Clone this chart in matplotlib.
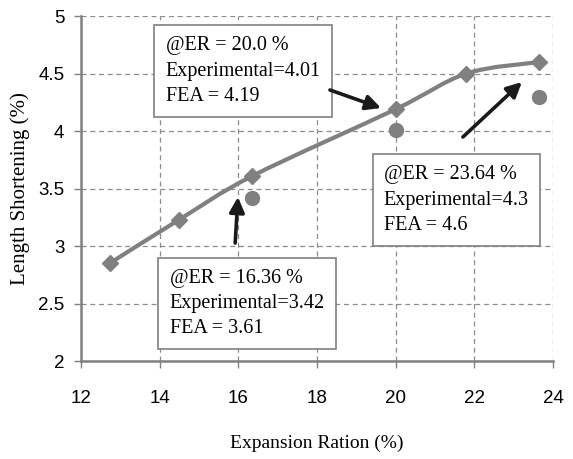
import matplotlib
matplotlib.use("Agg")
import matplotlib.pyplot as plt
from matplotlib.path import Path
from matplotlib.patches import PathPatch
from matplotlib import font_manager

# data
er_fea = [12.73, 14.5, 16.36, 20.0, 21.8, 23.64]
ls_fea = [2.85, 3.23, 3.61, 4.19, 4.5, 4.6]
er_exp = [16.36, 20.0, 23.64]
ls_exp = [3.42, 4.01, 4.3]
x_ticks = [12, 14, 16, 18, 20, 22, 24]
y_ticks = [2, 2.5, 3, 3.5, 4, 4.5, 5]
y_tick_labels = ["2", "2.5", "3", "3.5", "4", "4.5", "5"]

notes = [
    "@ER = 20.0 %\nExperimental=4.01\nFEA = 4.19",
    "@ER = 23.64 %\nExperimental=4.3\nFEA = 4.6",
    "@ER = 16.36 %\nExperimental=3.42\nFEA = 3.61",
]

names = {f.name for f in font_manager.fontManager.ttflist}
tick_font = "Liberation Sans Narrow" if "Liberation Sans Narrow" in names else "Liberation Sans"
serif = "Liberation Serif"

gray = "#808080"
grid_c = "#8c8c8c"

fig = plt.figure(figsize=(5.73, 4.59), dpi=100)
ax = fig.add_axes([0.1414, 0.2135, 0.8236, 0.7515])

ax.set_xlim(12, 24)
ax.set_ylim(2, 5)
ax.set_xticks(x_ticks)
ax.set_yticks(y_ticks)
ax.set_yticklabels(y_tick_labels)
ax.grid(True, linestyle=(0, (4, 3)), color=grid_c, linewidth=0.9)
ax.set_axisbelow(True)
for s in ["top", "right"]:
    ax.spines[s].set_visible(False)
for s in ["left", "bottom"]:
    ax.spines[s].set_color(gray)
    ax.spines[s].set_linewidth(1.8)
ax.tick_params(direction="out", length=5, color=gray, width=1)
for lab in ax.get_xticklabels() + ax.get_yticklabels():
    lab.set_fontfamily(tick_font)
    lab.set_fontsize(13.5)
ax.tick_params(axis="x", pad=16)
ax.tick_params(axis="y", pad=7)

# smoothed line like a spreadsheet chart (cubic Bezier through the points)
n = len(er_fea)
verts = [(er_fea[0], ls_fea[0])]
codes = [Path.MOVETO]
for i in range(n - 1):
    x0, y0 = er_fea[max(i - 1, 0)], ls_fea[max(i - 1, 0)]
    x1, y1 = er_fea[i], ls_fea[i]
    x2, y2 = er_fea[i + 1], ls_fea[i + 1]
    x3, y3 = er_fea[min(i + 2, n - 1)], ls_fea[min(i + 2, n - 1)]
    verts += [(x1 + (x2 - x0) / 6, y1 + (y2 - y0) / 6),
              (x2 - (x3 - x1) / 6, y2 - (y3 - y1) / 6),
              (x2, y2)]
    codes += [Path.CURVE4] * 3
ax.add_patch(PathPatch(Path(verts, codes), facecolor="none", edgecolor=gray,
                       linewidth=3, zorder=3))
ax.plot(er_fea, ls_fea, linestyle="none", marker="D", markersize=8,
        color=gray, zorder=4)
ax.plot(er_exp, ls_exp, linestyle="none", marker="o", markersize=10,
        color=gray, zorder=4)

box = dict(boxstyle="square,pad=0.55", facecolor="white", edgecolor=gray, linewidth=1.2)
arrow = dict(arrowstyle="-|>,head_length=0.9,head_width=0.45", color="#1a1a1a", lw=2.6,
             shrinkA=0, shrinkB=0)

ax.text(14.15, 4.52, notes[0], fontfamily=serif, fontsize=14.5, va="center", ha="left",
        linespacing=1.45, bbox=box, zorder=5)
ax.text(19.7, 3.40, notes[1], fontfamily=serif, fontsize=14.5, va="center", ha="left",
        linespacing=1.45, bbox=box, zorder=5)
ax.text(14.25, 2.50, notes[2], fontfamily=serif, fontsize=14.5, va="center", ha="left",
        linespacing=1.45, bbox=box, zorder=5)

ax.annotate("", xy=(19.63, 4.20), xytext=(18.33, 4.357), arrowprops=arrow, zorder=6)
ax.annotate("", xy=(23.21, 4.426), xytext=(21.71, 3.948), arrowprops=arrow, zorder=6)
ax.annotate("", xy=(15.99, 3.426), xytext=(15.92, 3.026), arrowprops=arrow, zorder=6)

ax.set_xlabel("Expansion Ration (%)", fontfamily=serif, fontsize=14, labelpad=20)
ax.set_ylabel("Length Shortening (%)", fontfamily=serif, fontsize=15, labelpad=6)

fig.savefig("out.png", dpi=100)
